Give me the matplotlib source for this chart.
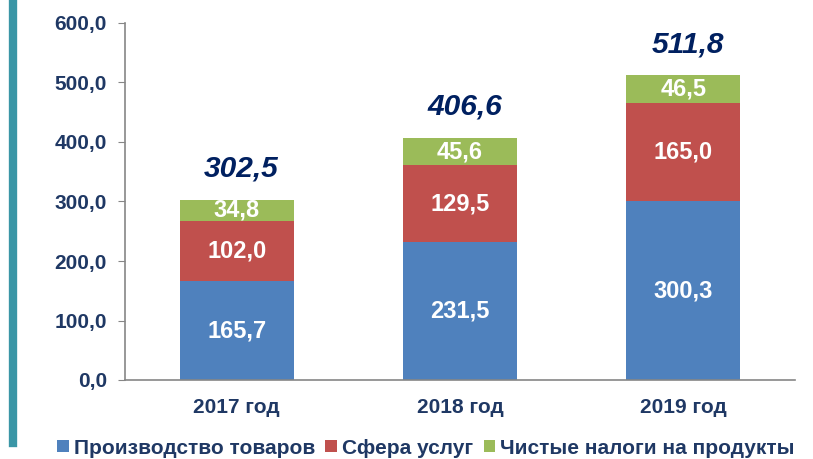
import matplotlib.pyplot as plt
import numpy as np

years = ['2017 год', '2018 год', '2019 год']
goods = [165.7, 231.5, 300.3]
services = [102.0, 129.5, 165.0]
taxes = [34.8, 45.6, 46.5]
totals = [302.5, 406.6, 511.8]
series_names = ['Производство товаров', 'Сфера услуг', 'Чистые налоги на продукты']

plt.rcParams['font.family'] = ['Liberation Sans', 'DejaVu Sans']

navy = '#1f3864'
colors = ['#4f81bd', '#c0504d', '#9bbb59']

fig = plt.figure(figsize=(8.13, 4.59), dpi=100)
ax = fig.add_axes([125/813, 1 - 380/459, 670/813, 357/459])

x = np.arange(len(years))
w = 0.51
b1 = ax.bar(x, goods, w, color=colors[0], label=series_names[0])
b2 = ax.bar(x, services, w, bottom=goods, color=colors[1], label=series_names[1])
bottom3 = np.array(goods) + np.array(services)
b3 = ax.bar(x, taxes, w, bottom=bottom3, color=colors[2], label=series_names[2])

# values inside segments
for bars, vals, bots in [(b1, goods, np.zeros(3)), (b2, services, goods), (b3, taxes, bottom3)]:
    for bar, v, b in zip(bars, vals, bots):
        ax.text(bar.get_x() + bar.get_width() / 2, b + v / 2, f'{v:.1f}'.replace('.', ','),
                ha='center', va='center', color='white', fontsize=17, fontweight='bold')

# totals above bars
for xi, t in zip(x, totals):
    ax.text(xi + 0.02, t + 39, f'{t:.1f}'.replace('.', ','), ha='center', va='baseline',
            color='#002060', fontsize=21.5, fontweight='bold', style='italic')

ax.set_xlim(-0.5, 2.5)
ax.set_ylim(0, 600)
ax.set_yticks(np.arange(0, 601, 100))
ax.set_yticklabels([f'{v:.1f}'.replace('.', ',') for v in np.arange(0, 601, 100)],
                   color=navy, fontsize=15, fontweight='bold')
ax.set_xticks(x)
ax.set_xticklabels(years, color=navy, fontsize=15, fontweight='bold')
ax.tick_params(axis='y', length=5, color='#868686', pad=8)
ax.tick_params(axis='x', length=0, pad=13)
for s in ['top', 'right']:
    ax.spines[s].set_visible(False)
for s in ['left', 'bottom']:
    ax.spines[s].set_color('#868686')
    ax.spines[s].set_linewidth(1.2)

leg = fig.legend(handles=[b1, b2, b3], loc='center', bbox_to_anchor=(426/813, 1 - 448/459),
                 ncol=3, frameon=False, fontsize=15, handlelength=0.55, handleheight=0.55,
                 handletextpad=0.25, columnspacing=0.5, borderpad=0)
for t in leg.get_texts():
    t.set_color(navy)
    t.set_fontweight('bold')

# teal accent bar on the left
fig.add_artist(plt.Line2D([13/813, 13/813], [1 - 443/459, 1.0], color='#3a96a6', linewidth=6))

fig.savefig('out.png', dpi=100)
